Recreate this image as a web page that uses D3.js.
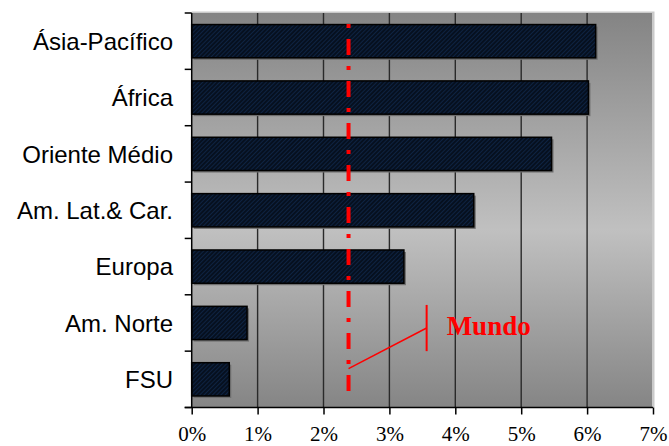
<!DOCTYPE html>
<html>
<head>
<meta charset="utf-8">
<script src="https://cdnjs.cloudflare.com/ajax/libs/d3/7.8.5/d3.min.js"></script>
<style>
body{margin:0;padding:0;background:#fff;overflow:hidden;}
svg{display:block;}
</style>
</head>
<body>
<div id="chart"></div>
<script>
var categories = ["Ásia-Pacífico", "África", "Oriente Médio", "Am. Lat.& Car.", "Europa", "Am. Norte", "FSU"];
var values = [6.13, 6.02, 5.46, 4.28, 3.22, 0.84, 0.57];
var xTicks = [0, 1, 2, 3, 4, 5, 6, 7];
var mundo = 2.38;
var mundoLabel = "Mundo";
var mundoArrow = [3.565, 5.75];   // annotation anchor: x value, band position

var W = 669, H = 446;
var m = {top: 13, right: 16, bottom: 38.5, left: 191.7};

var svg = d3.select("#chart").append("svg")
    .attr("width", W).attr("height", H);
var defs = svg.append("defs");

var grad = defs.append("linearGradient")
    .attr("id", "bg").attr("x1", 0).attr("y1", 0).attr("x2", 0).attr("y2", 1);
grad.append("stop").attr("offset", "0%").attr("stop-color", "#848484");
grad.append("stop").attr("offset", "55%").attr("stop-color", "#c0c0c0");
grad.append("stop").attr("offset", "100%").attr("stop-color", "#858585");

var pat = defs.append("pattern")
    .attr("id", "hatch").attr("patternUnits", "userSpaceOnUse")
    .attr("width", 3).attr("height", 3)
    .attr("patternTransform", "rotate(45)");
pat.append("rect").attr("width", 3).attr("height", 3).attr("fill", "#06101f");
pat.append("line").attr("x1", 0).attr("y1", 0).attr("x2", 0).attr("y2", 3)
    .attr("stroke", "#13305a").attr("stroke-width", 1.2);

var x = d3.scaleLinear().domain([0, 7]).range([m.left, W - m.right]);
var y = d3.scaleBand().domain(categories)
    .range([m.top, H - m.bottom]).paddingInner(0.41).paddingOuter(0.205);

// plot area
svg.append("rect")
    .attr("x", x(0)).attr("y", m.top - 1.5)
    .attr("width", x(7) - x(0) + 1.5).attr("height", H - m.bottom - m.top + 1.5)
    .attr("fill", "#cacaca");
svg.append("rect")
    .attr("x", x(0)).attr("y", m.top)
    .attr("width", x(7) - x(0) - 1).attr("height", H - m.bottom - m.top)
    .attr("fill", "url(#bg)");

// gridlines
svg.append("g").selectAll("line")
    .data(xTicks.slice(1, -1))
    .join("line")
    .attr("x1", function(d){return x(d);}).attr("x2", function(d){return x(d);})
    .attr("y1", m.top).attr("y2", H - m.bottom)
    .attr("stroke", "#2a2a2a").attr("stroke-width", 1.4);

// bars (shadow then bar)
var bars = svg.append("g");
bars.selectAll("rect.sh")
    .data(values)
    .join("rect").attr("class", "sh")
    .attr("x", x(0) + 2)
    .attr("y", function(d, i){return y(categories[i]) + 2;})
    .attr("width", function(d){return x(d) - x(0);})
    .attr("height", y.bandwidth())
    .attr("fill", "#6e6e6e");
bars.selectAll("rect.bar")
    .data(values)
    .join("rect").attr("class", "bar")
    .attr("x", x(0))
    .attr("y", function(d, i){return y(categories[i]);})
    .attr("width", function(d){return x(d) - x(0);})
    .attr("height", y.bandwidth())
    .attr("fill", "url(#hatch)")
    .attr("stroke", "#000").attr("stroke-width", 1.5);

// world average line
svg.append("line")
    .attr("x1", x(mundo)).attr("x2", x(mundo))
    .attr("y1", m.top).attr("y2", H - m.bottom - 14)
    .attr("stroke", "#ff0000").attr("stroke-width", 4)
    .attr("stroke-dasharray", "4 11 16 11").attr("stroke-dashoffset", 31);

// annotation
var bandY = function(p){return m.top + p * y.step();};
svg.append("line")
    .attr("x1", x(mundo)).attr("y1", bandY(6.31))
    .attr("x2", x(mundoArrow[0])).attr("y2", bandY(mundoArrow[1] - 0.16))
    .attr("stroke", "#ff0000").attr("stroke-width", 1.5);
svg.append("line")
    .attr("x1", x(mundoArrow[0])).attr("x2", x(mundoArrow[0]))
    .attr("y1", bandY(mundoArrow[1] - 0.57)).attr("y2", bandY(mundoArrow[1] + 0.25))
    .attr("stroke", "#ff0000").attr("stroke-width", 2);
svg.append("text")
    .attr("x", x(mundoArrow[0]) + 20).attr("y", bandY(mundoArrow[1] - 0.04))
    .attr("fill", "#ff0000")
    .attr("font-family", "'Liberation Serif', 'Times New Roman', serif")
    .attr("font-weight", "bold").attr("font-size", "27px")
    .text(mundoLabel);

// y axis
svg.append("line")
    .attr("x1", x(0)).attr("x2", x(0))
    .attr("y1", m.top).attr("y2", H - m.bottom)
    .attr("stroke", "#000").attr("stroke-width", 1.5);
svg.append("g").selectAll("line")
    .data(d3.range(categories.length + 1))
    .join("line")
    .attr("x1", x(0) - 7).attr("x2", x(0))
    .attr("y1", function(i){return bandY(i);}).attr("y2", function(i){return bandY(i);})
    .attr("stroke", "#000").attr("stroke-width", 1.5);
svg.append("g").selectAll("text")
    .data(categories)
    .join("text")
    .attr("x", 173)
    .attr("y", function(d){return y(d) + y.bandwidth() / 2;})
    .attr("dy", "0.37em")
    .attr("text-anchor", "end")
    .attr("font-family", "'Liberation Sans', Arial, sans-serif")
    .attr("font-size", "24px")
    .attr("fill", "#000")
    .text(function(d){return d;});

// x axis
var xAxis = svg.append("g")
    .attr("transform", "translate(0," + (H - m.bottom) + ")")
    .call(d3.axisBottom(x).tickValues(xTicks)
        .tickFormat(function(d){return d + "%";})
        .tickSize(7).tickSizeOuter(0));
xAxis.select(".domain").remove();
xAxis.append("line")
    .attr("x1", x(0) - 7).attr("x2", x(7))
    .attr("stroke", "#000").attr("stroke-width", 1.5);
xAxis.selectAll(".tick line").attr("stroke", "#000").attr("stroke-width", 1.5);
xAxis.selectAll(".tick text")
    .attr("y", 33).attr("dy", 0)
    .attr("fill", "#000")
    .attr("font-family", "'Liberation Serif', 'Times New Roman', serif")
    .attr("font-size", "21px");
</script>
</body>
</html>
